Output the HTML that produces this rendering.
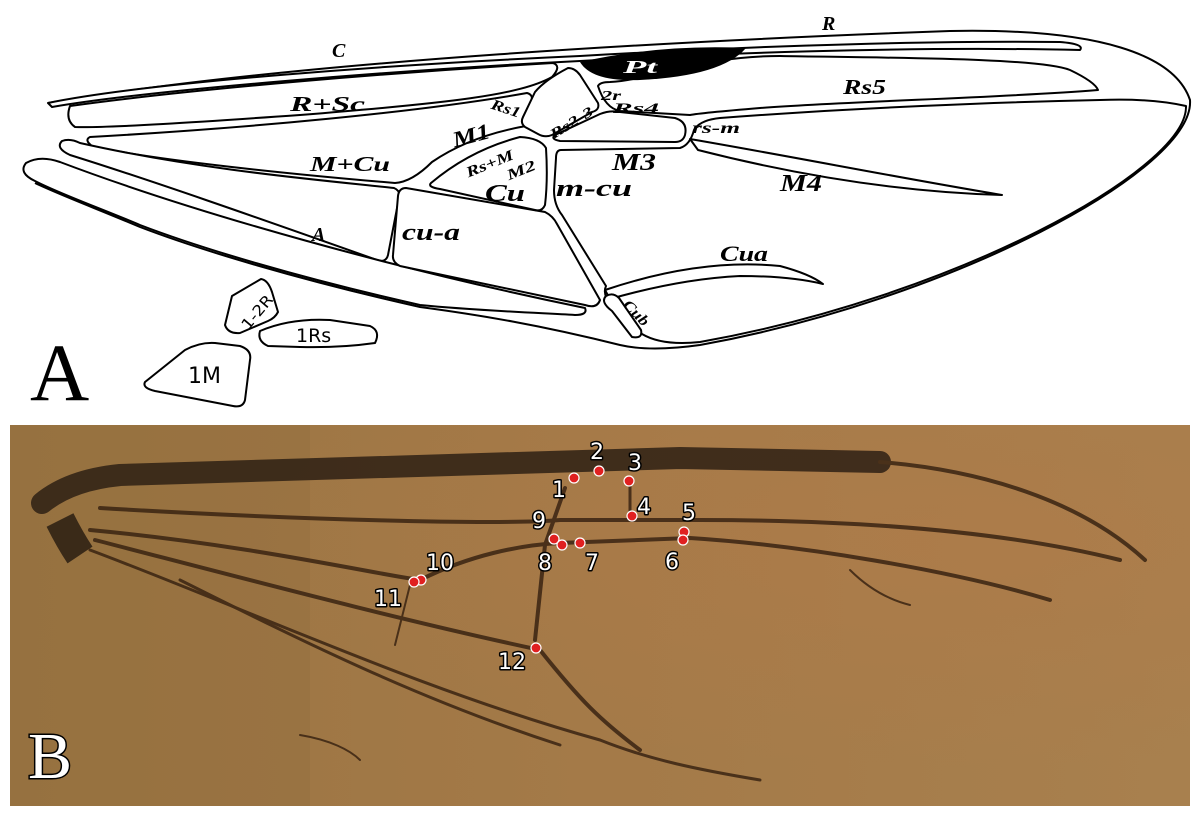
<!DOCTYPE html>
<html><head><meta charset="utf-8"><style>
html,body{margin:0;padding:0;background:#fff;}
svg{display:block;}
.c{fill:#fff;stroke:#000;stroke-width:2;stroke-linejoin:round;}
.l{font-family:"Liberation Serif",serif;font-style:italic;font-weight:bold;fill:#000;}
.s{font-family:"DejaVu Sans","Liberation Sans",sans-serif;fill:#000;}
.n{font-family:"DejaVu Sans","Liberation Sans",sans-serif;font-size:22px;fill:#fff;stroke:#000;stroke-width:3;paint-order:stroke;stroke-linejoin:round;}
.d{fill:#e02020;stroke:#fff;stroke-width:1.2;}
.v{fill:none;stroke:#3a2412;stroke-linecap:round;}
</style></head><body>
<svg width="1200" height="816" viewBox="0 0 1200 816" xmlns="http://www.w3.org/2000/svg">
<defs>
<linearGradient id="bg" x1="0" y1="0" x2="1" y2="0">
<stop offset="0" stop-color="#9a7442"/><stop offset="0.5" stop-color="#a47a48"/><stop offset="1" stop-color="#a8804e"/>
</linearGradient>
<radialGradient id="sp" cx="0.8" cy="0.3" r="0.6"><stop offset="0" stop-color="#b07a48" stop-opacity="0.6"/><stop offset="1" stop-color="#b07a48" stop-opacity="0"/></radialGradient>
</defs>
<rect width="1200" height="816" fill="#fff"/>
<!-- outer wing (open at base) -->
<path d="M48,103 C300,60 700,40 950,31 C1100,28 1175,55 1190,100 C1195,170 950,300 700,345 Q650,352 620,345 C540,325 480,315 420,307 C300,280 200,250 140,227 C100,210 60,195 35,183" fill="none" stroke="#000" stroke-width="2"/>
<path class="c" d="M48,103 C150,82 400,64 580,56 C700,49 900,40 1060,42 Q1085,44 1080,50 C900,46 700,54 580,61 C400,70 150,90 52,107Z"/>
<path class="c" d="M70,106 C200,88 400,72 553,63 Q562,66 552,77 C520,95 450,103 300,115 C200,122 110,128 75,127 Q65,120 70,106Z"/>
<path class="c" d="M90,137 C250,128 420,112 527,93 Q534,95 531,102 L526,126 Q470,136 432,162 Q412,182 395,183 C300,175 150,160 92,146 Q84,140 90,137Z"/>
<path class="c" d="M62,141 Q70,138 80,143 C200,170 320,180 394,188 Q401,191 399,198 L388,255 Q386,263 377,260 C250,215 150,180 70,155 Q55,148 62,141Z"/>
<path class="c" d="M26,163 Q40,155 60,162 C200,215 400,270 585,308 Q588,315 575,315 C520,312 470,310 420,305 C300,278 200,248 140,225 C100,208 60,194 35,181 Q18,173 26,163Z"/>
<path class="c" d="M406,188 L545,212 Q553,216 557,224 L600,300 Q597,309 585,305 L400,266 Q392,262 393,255 L398,196 Q399,188 406,188Z"/>
<path class="c" d="M431,183 Q470,150 520,137 Q540,138 546,148 Q548,180 545,205 Q542,212 535,210 L440,189 Q427,187 431,183Z"/>
<path class="c" d="M568,68 Q575,68 580,75 L598,103 Q600,110 592,112 L552,135 Q545,138 538,134 L525,127 Q520,123 523,117 L535,92 Q545,80 568,68Z"/>
<path class="c" d="M555,135 L600,114 Q610,110 620,112 L675,118 Q688,122 685,135 Q683,142 675,142 L560,141 Q550,139 555,135Z"/>
<path class="c" d="M598,86 Q600,82 610,82 C650,80 700,56 780,56 C900,58 1040,58 1070,70 Q1095,82 1098,90 C1000,98 850,101 760,108 Q700,113 690,115 L620,111 Q605,108 598,86Z"/>
<path class="c" d="M561,150 L680,148 Q690,145 694,130 Q700,120 720,118 C850,108 1000,102 1100,100 Q1150,98 1186,106 C1188,170 950,298 700,342 Q662,346 642,334 L612,305 Q602,295 606,286 L562,215 Q554,205 554,190 L556,158 Q556,150 561,150Z"/>
<path class="c" d="M690,139 C800,158 900,178 1002,195 C900,192 800,176 698,150Z"/>
<path class="c" d="M605,290 Q700,258 780,266 Q810,274 823,284 Q790,276 740,276 Q680,279 610,299Z"/>
<path class="c" d="M606,296 Q613,292 619,298 L641,330 Q643,339 632,337 L612,311 Q600,302 606,296Z"/>
<path d="M580,62 Q660,44 746,48 Q722,76 640,80 Q592,82 580,62Z" fill="#000"/>
<!-- fragments -->
<path class="c" d="M232,296 L261,279 Q268,280 272,292 L278,312 Q275,318 268,321 L240,333 Q228,334 225,325 Z"/>
<path class="c" d="M260,331 Q290,318 330,320 L370,326 Q381,331 375,343 Q340,348 300,347 L268,346 Q257,341 260,331Z"/>
<path class="c" d="M145,382 L185,350 Q200,342 215,343 L240,346 Q252,350 250,360 L245,400 Q243,408 233,406 L155,391 Q142,388 145,382Z"/>
<text class="s" x="233" y="322" font-size="15" transform="rotate(-50 250 310)" textLength="40" lengthAdjust="spacingAndGlyphs">1-2R</text>
<text class="s" x="296" y="342" font-size="19">1Rs</text>
<text class="s" x="188" y="383" font-size="22">1M</text>
<!-- labels -->
<g class="l">
<text x="332" y="57" font-size="20" textLength="16">C</text>
<text x="822" y="30" font-size="20" textLength="15">R</text>
<text x="623" y="73" font-size="18" style="fill:#fff" textLength="34" lengthAdjust="spacingAndGlyphs">Pt</text>
<text x="290" y="111" font-size="21" textLength="75" lengthAdjust="spacingAndGlyphs">R+Sc</text>
<text x="843" y="94" font-size="21" textLength="43" lengthAdjust="spacingAndGlyphs">Rs5</text>
<text x="491" y="113" font-size="15" transform="rotate(18 505 108)" textLength="30" lengthAdjust="spacingAndGlyphs">Rs1</text>
<text x="544" y="130" font-size="14" transform="rotate(-32 565 118)" textLength="48" lengthAdjust="spacingAndGlyphs">Rs2-3</text>
<text x="601" y="100" font-size="14" textLength="20" lengthAdjust="spacingAndGlyphs">2r</text>
<text x="613" y="113" font-size="15" textLength="46" lengthAdjust="spacingAndGlyphs">Rs4</text>
<text x="692" y="133" font-size="16" textLength="48" lengthAdjust="spacingAndGlyphs">rs-m</text>
<text x="452" y="143" font-size="22" transform="rotate(-15 470 135)" textLength="38" lengthAdjust="spacingAndGlyphs">M1</text>
<text x="463" y="170" font-size="15" transform="rotate(-22 485 160)" textLength="50" lengthAdjust="spacingAndGlyphs">Rs+M</text>
<text x="505" y="176" font-size="15" transform="rotate(-22 518 168)" textLength="30" lengthAdjust="spacingAndGlyphs">M2</text>
<text x="310" y="171" font-size="21" textLength="80" lengthAdjust="spacingAndGlyphs">M+Cu</text>
<text x="485" y="201" font-size="24" textLength="40" lengthAdjust="spacingAndGlyphs">Cu</text>
<text x="556" y="196" font-size="24" textLength="76" lengthAdjust="spacingAndGlyphs">m-cu</text>
<text x="612" y="170" font-size="24" textLength="44" lengthAdjust="spacingAndGlyphs">M3</text>
<text x="780" y="191" font-size="24" textLength="42" lengthAdjust="spacingAndGlyphs">M4</text>
<text x="312" y="241" font-size="20" textLength="18">A</text>
<text x="402" y="240" font-size="24" textLength="58" lengthAdjust="spacingAndGlyphs">cu-a</text>
<text x="720" y="261" font-size="22" textLength="48" lengthAdjust="spacingAndGlyphs">Cua</text>
<text x="618" y="314" font-size="15" transform="rotate(45 630 315)" textLength="30" lengthAdjust="spacingAndGlyphs">Cub</text>
</g>
<text x="30" y="400" font-family="Liberation Serif,serif" font-size="82" fill="#000">A</text>
<!-- panel B -->
<rect x="10" y="425" width="1180" height="381" fill="url(#bg)"/>
<rect x="10" y="425" width="1180" height="381" fill="url(#sp)"/>
<rect x="10" y="425" width="300" height="381" fill="#8e6c3c" opacity="0.35"/>
<g opacity="0.85">
<path d="M42,503 Q70,480 120,475 L680,458 L880,462" stroke="#2e2014" stroke-width="22" fill="none" stroke-linecap="round"/>
<path d="M60,520 Q70,540 80,555" stroke="#2a1e12" stroke-width="30" fill="none"/>
<path d="M880,462 C980,470 1080,500 1145,560" class="v" stroke-width="4"/>
<path d="M100,508 C300,520 500,525 560,520 L700,520 C850,520 1000,530 1120,560" class="v" stroke-width="4"/>
<path d="M90,530 C250,545 380,575 420,580 C470,555 520,545 560,543 L690,538 C800,545 950,570 1050,600" class="v" stroke-width="4"/>
<path d="M95,540 C250,580 400,620 540,650 C580,700 600,720 640,750" class="v" stroke-width="4"/>
<path d="M90,550 C250,610 420,690 600,740 C650,760 700,770 760,780" class="v" stroke-width="3"/>
<path d="M180,580 C300,640 420,700 560,745" class="v" stroke-width="3"/>
<path d="M565,488 L545,545 L535,640" class="v" stroke-width="4"/>
<path d="M630,480 L630,520" class="v" stroke-width="3"/>
<path d="M410,585 L395,645" class="v" stroke-width="2"/>
<path d="M850,570 C870,590 890,600 910,605" class="v" stroke-width="2"/>
<path d="M300,735 C330,740 350,750 360,760" class="v" stroke-width="2"/>
</g>
<g>
<circle class="d" cx="574" cy="478" r="5"/><circle class="d" cx="599" cy="471" r="5"/>
<circle class="d" cx="629" cy="481" r="5"/><circle class="d" cx="632" cy="516" r="5"/>
<circle class="d" cx="684" cy="532" r="5"/><circle class="d" cx="683" cy="540" r="5"/>
<circle class="d" cx="580" cy="543" r="5"/><circle class="d" cx="562" cy="545" r="5"/>
<circle class="d" cx="554" cy="539" r="5"/><circle class="d" cx="421" cy="580" r="5"/>
<circle class="d" cx="414" cy="582" r="5"/><circle class="d" cx="536" cy="648" r="5"/>
</g>
<g class="n">
<text x="552" y="497">1</text><text x="590" y="459">2</text><text x="628" y="470">3</text>
<text x="637" y="514">4</text><text x="682" y="520">5</text><text x="665" y="569">6</text>
<text x="585" y="570">7</text><text x="538" y="570">8</text><text x="532" y="528">9</text>
<text x="426" y="570">10</text><text x="374" y="606">11</text><text x="498" y="669">12</text>
</g>
<text x="28" y="778" font-family="Liberation Serif,serif" font-size="66" fill="#fff" stroke="#000" stroke-width="3" paint-order="stroke">B</text>
</svg>
</body></html>
